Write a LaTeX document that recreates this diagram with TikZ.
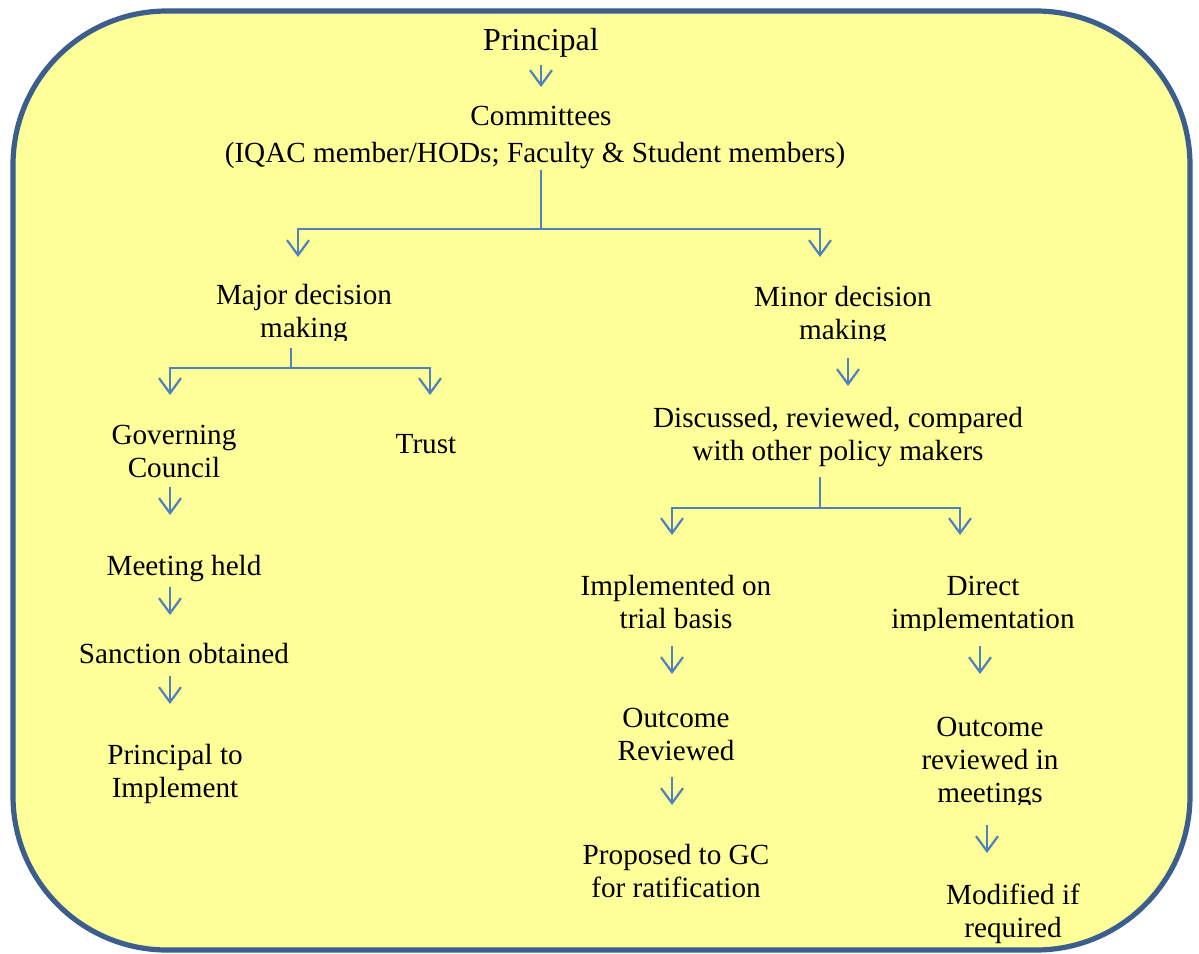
\documentclass[tikz,border=0pt]{standalone}
\usepackage{fontspec}
\setmainfont{Liberation Serif}
\usetikzlibrary{arrows.meta}
\definecolor{panelfill}{HTML}{FFFF99}
\definecolor{panelrim}{HTML}{3B5E8C}
\definecolor{flowblue}{HTML}{4F81BD}
\begin{document}
\begin{tikzpicture}[x=0.5pt,y=-0.5pt,
  % multi-line labels are placed by the baseline of their last line
  lbl/.style={font=\fontsize{14.6}{16.5}\selectfont, align=center, inner sep=0pt, anchor=base},
  toplbl/.style={lbl, font=\fontsize{16}{18}\selectfont},
  link/.style={draw=flowblue, line width=1.1pt},
  arr/.style={link, -{Straight Barb[length=7.5pt,width=11pt,line width=1.1pt]}}]
\useasboundingbox (0,0) rectangle (1199,953);

% panel
\draw[panelrim, fill=panelfill, line width=2.6pt, rounded corners=77pt] (13,11) rectangle (1190,950);

% top of the chart
\node[toplbl] (prin) at (541,50) {Principal};
\node[lbl] (comm) at (541,125) {Committees};
\node[lbl] (iqac) at (535,162) {(IQAC member/HODs; Faculty \& Student members)};

% decision headings (second lines cut off at the bottom)
\begin{scope}
  \clip (0,0) rectangle (1199,340);
  \node[lbl] (major) at (304,337) {Major decision\\making};
  \node[lbl] (minor) at (843,339) {Minor decision\\making};
\end{scope}

% major decision branch
\node[lbl] (gov) at (174,477) {Governing\\Council};
\node[lbl] (trust) at (426,453) {Trust};
\node[lbl] (meet) at (184,575) {Meeting held};
\node[lbl] (sanc) at (184,663) {Sanction obtained};
\node[lbl] (impl) at (175,797) {Principal to\\Implement};

% minor decision branch
\node[lbl] (disc) at (838,460) {Discussed, reviewed, compared\\with other policy makers};
\node[lbl] (trial) at (676,628) {Implemented on\\trial basis};
\begin{scope}
  \clip (850,560) rectangle (1150,630);
  \node[lbl] (direct) at (983,628) {Direct\\implementation};
\end{scope}
\node[lbl] (outl) at (676,760) {Outcome\\Reviewed};
\node[lbl] (prop) at (676,897) {Proposed to GC\\for ratification};
\begin{scope}
  \clip (850,690) rectangle (1150,804);
  \node[lbl] (outr) at (990,802) {Outcome\\reviewed in\\meetings};
\end{scope}
\node[lbl] (mod) at (1013,937) {Modified if\\required};

% connector end points
\coordinate (prin-o) at (541,65);   \coordinate (comm-i) at (541,87);
\coordinate (comm-o) at (541,170);  \coordinate (comm-j) at (541,229);
\coordinate (major-i) at (298,257); \coordinate (minor-i) at (820,257);
\coordinate (major-o) at (291,348); \coordinate (major-j) at (291,368);
\coordinate (gov-i) at (170,395);   \coordinate (trust-i) at (430,395);
\coordinate (gov-o) at (170,487);   \coordinate (meet-i) at (170,515);
\coordinate (meet-o) at (170,587);  \coordinate (sanc-i) at (170,615);
\coordinate (sanc-o) at (170,676);  \coordinate (impl-i) at (170,704);
\coordinate (minor-o) at (848,358); \coordinate (disc-i) at (848,386);
\coordinate (disc-o) at (820,477);  \coordinate (disc-j) at (820,508);
\coordinate (trial-i) at (672,535); \coordinate (direct-i) at (960,535);
\coordinate (trial-o) at (672,646); \coordinate (outl-i) at (672,674);
\coordinate (outl-o) at (672,777);  \coordinate (prop-i) at (672,805);
\coordinate (direct-o) at (980,646); \coordinate (outr-i) at (980,674);
\coordinate (outr-o) at (987,825);  \coordinate (mod-i) at (987,853);

% connectors
\draw[arr] (prin-o) -- (comm-i);
\draw[link] (comm-o) -- (comm-j);
\draw[arr] (comm-j) -| (major-i);
\draw[arr] (comm-j) -| (minor-i);
\draw[link] (major-o) -- (major-j);
\draw[arr] (major-j) -| (gov-i);
\draw[arr] (major-j) -| (trust-i);
\draw[arr] (gov-o) -- (meet-i);
\draw[arr] (meet-o) -- (sanc-i);
\draw[arr] (sanc-o) -- (impl-i);
\draw[arr] (minor-o) -- (disc-i);
\draw[link] (disc-o) -- (disc-j);
\draw[arr] (disc-j) -| (trial-i);
\draw[arr] (disc-j) -| (direct-i);
\draw[arr] (trial-o) -- (outl-i);
\draw[arr] (outl-o) -- (prop-i);
\draw[arr] (direct-o) -- (outr-i);
\draw[arr] (outr-o) -- (mod-i);
\end{tikzpicture}
\end{document}
